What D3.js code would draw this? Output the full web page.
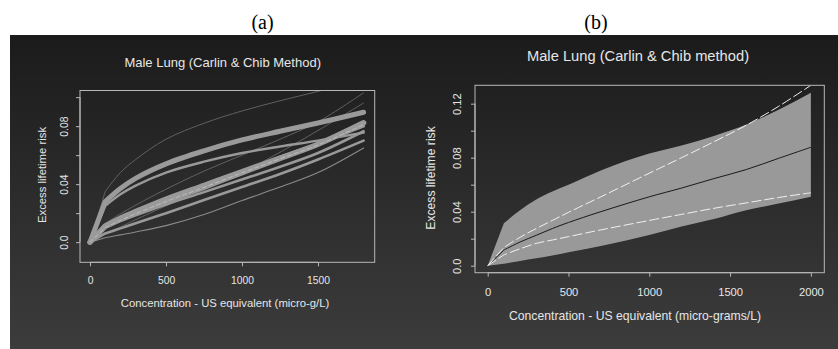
<!DOCTYPE html>
<html>
<head>
<meta charset="utf-8">
<script src="https://cdn.jsdelivr.net/npm/d3@7"></script>
<style>
html,body{margin:0;padding:0;background:#fff;}
svg{display:block;}
</style>
</head>
<body>
<svg id="chart" width="838" height="349"></svg>
<script>
// ---------- DATA ----------
// Panel (a): posterior sample curves
const aConc = [0, 100, 200, 300, 500, 750, 1000, 1250, 1500, 1800];
const aCurveTop    = [0, 0.035, 0.048, 0.057, 0.071, 0.082, 0.0905, 0.0975, 0.104, 0.112];
const aCurveUpper  = [0, 0.028, 0.037, 0.044, 0.054, 0.063, 0.0705, 0.0765, 0.0822, 0.0896];
const aCurveUpper2 = [0, 0.025, 0.033, 0.039, 0.048, 0.0555, 0.0615, 0.066, 0.070, 0.0755];
const aCurveMid    = [0, 0.011, 0.016, 0.0205, 0.0285, 0.038, 0.048, 0.0578, 0.0675, 0.0823];
const aCurveMidB   = [0, 0.012, 0.0175, 0.022, 0.0305, 0.040, 0.0495, 0.0588, 0.068, 0.080];
const aCurveMidD   = [0, 0.010, 0.015, 0.0195, 0.028, 0.0378, 0.0478, 0.0575, 0.067, 0.081];
const aCurveMid2   = [0, 0.010, 0.0145, 0.0185, 0.026, 0.0345, 0.0432, 0.052, 0.0615, 0.0765];
const aCurveLow    = [0, 0.006, 0.0095, 0.013, 0.020, 0.029, 0.038, 0.047, 0.057, 0.070];
const aCurveBottom = [0, 0.003, 0.005, 0.007, 0.0114, 0.019, 0.0287, 0.038, 0.048, 0.065];
const aCurveConvex = [0, 0.006, 0.0105, 0.0155, 0.025, 0.036, 0.048, 0.062, 0.077, 0.096];
const aCurveStraight = [0, 0.013, 0.0195, 0.0255, 0.0365, 0.049, 0.060, 0.071, 0.083, 0.103];
const aXTicks = [0, 500, 1000, 1500];
const aYTicks = [0, 0.02, 0.04, 0.06, 0.08, 0.10];
const aYLabels = ["0.0", "", "0.04", "", "0.08", ""];

// Panel (b): posterior band, median, and two white dashed curves
const bConc = [0, 100, 200, 300, 400, 500, 700, 1000, 1200, 1400, 1600, 1800, 2000];
const bBandUpper = [0, 0.0314, 0.041, 0.049, 0.055, 0.060, 0.0705, 0.083, 0.089, 0.096, 0.1045, 0.1155, 0.128];
const bBandLower = [0, 0.0015, 0.0035, 0.0055, 0.0075, 0.0099, 0.0146, 0.0227, 0.029, 0.0345, 0.041, 0.046, 0.051];
const bMedian    = [0, 0.0116, 0.0175, 0.0225, 0.0275, 0.032, 0.040, 0.051, 0.0575, 0.0645, 0.0712, 0.0795, 0.0877];
const bWhiteUp   = [0, 0.0135, 0.021, 0.0275, 0.0335, 0.0395, 0.051, 0.0685, 0.080, 0.0918, 0.104, 0.118, 0.1336];
const bWhiteLow  = [0, 0.008, 0.0125, 0.0165, 0.019, 0.0215, 0.0265, 0.0335, 0.038, 0.0425, 0.0465, 0.0505, 0.054];
const bXTicks = [0, 500, 1000, 1500, 2000];
const bYTicks = [0, 0.02, 0.04, 0.06, 0.08, 0.10, 0.12];
const bYLabels = ["0.0", "", "0.04", "", "0.08", "", "0.12"];

// ---------- DRAW ----------
const svg = d3.select("#chart");
const defs = svg.append("defs");
const grad = defs.append("linearGradient").attr("id","bg").attr("x1",0).attr("y1",0).attr("x2",0).attr("y2",1);
grad.append("stop").attr("offset","0%").attr("stop-color","#1b1b1b");
grad.append("stop").attr("offset","100%").attr("stop-color","#3c3c3c");
svg.append("rect").attr("x",10).attr("y",35).attr("width",828).attr("height",314).attr("fill","url(#bg)");

svg.append("text").attr("x",262.5).attr("y",29).attr("text-anchor","middle")
  .attr("font-family","Liberation Serif, Times New Roman, serif").attr("font-size",20).attr("fill","#000").text("(a)");
svg.append("text").attr("x",596).attr("y",29).attr("text-anchor","middle")
  .attr("font-family","Liberation Serif, Times New Roman, serif").attr("font-size",20).attr("fill","#000").text("(b)");

const FONT = "Liberation Sans, Arial, sans-serif";
const axisCol = "#b8b8b8";
const textCol = "#e6e6e6";

function panel(cfg){
  const g = svg.append("g");
  const x = d3.scaleLinear().domain(cfg.xDom).range([cfg.left, cfg.right]);
  const y = d3.scaleLinear().domain(cfg.yDom).range([cfg.bottom, cfg.top]);
  const cid = "clip" + cfg.id;
  defs.append("clipPath").attr("id",cid).append("rect")
    .attr("x",cfg.left).attr("y",cfg.top).attr("width",cfg.right-cfg.left).attr("height",cfg.bottom-cfg.top);
  const plot = g.append("g").attr("clip-path",`url(#${cid})`);
  g.append("rect").attr("x",cfg.left).attr("y",cfg.top).attr("width",cfg.right-cfg.left)
    .attr("height",cfg.bottom-cfg.top).attr("fill","none").attr("stroke",axisCol).attr("stroke-width",1);
  const xa = d3.axisBottom(x).tickValues(cfg.xTicks).tickSize(cfg.tick).tickPadding(cfg.xPad).tickFormat(d3.format("d"));
  const xg = g.append("g").attr("transform",`translate(0,${cfg.bottom})`).call(xa);
  xg.select(".domain").attr("d", `M${x(cfg.xTicks[0])},0H${x(cfg.xTicks[cfg.xTicks.length-1])}`).attr("stroke",axisCol);
  xg.selectAll(".tick line").attr("stroke",axisCol);
  xg.selectAll(".tick text").attr("fill",textCol).attr("font-family",FONT).attr("font-size",cfg.tickFont);
  const ya = d3.axisLeft(y).tickValues(cfg.yTicks).tickSize(cfg.tick).tickFormat((d,i)=>cfg.yLabels[i]);
  const yg = g.append("g").attr("transform",`translate(${cfg.left},0)`).call(ya);
  yg.select(".domain").attr("d", `M0,${y(cfg.yTicks[0])}V${y(cfg.yTicks[cfg.yTicks.length-1])}`).attr("stroke",axisCol);
  yg.selectAll(".tick line").attr("stroke",axisCol);
  yg.selectAll(".tick text").attr("fill",textCol).attr("font-family",FONT).attr("font-size",cfg.tickFont)
    .attr("text-anchor","middle").attr("dy",null).attr("x",null)
    .attr("transform",`translate(${cfg.yLabX - cfg.left},0) rotate(-90)`).attr("y",0);
  g.append("text").attr("x",cfg.titleX).attr("y",cfg.titleY).attr("text-anchor","middle")
    .attr("font-family",FONT).attr("font-size",cfg.titleFont).attr("fill",textCol).text(cfg.title);
  g.append("text").attr("x",cfg.xlabX).attr("y",cfg.xlabY).attr("text-anchor","middle")
    .attr("font-family",FONT).attr("font-size",cfg.labFont).attr("fill",textCol).text(cfg.xlab);
  g.append("text").attr("transform",`translate(${cfg.ylabX},${cfg.ylabY}) rotate(-90)`).attr("text-anchor","middle")
    .attr("font-family",FONT).attr("font-size",cfg.labFont).attr("fill",textCol).text(cfg.ylab);
  return {x,y,plot};
}

const smoothCurve = d3.curveCatmullRom.alpha(0.5);
// path: straight first segment (kink at 100), smooth afterwards
function kinkedPath(xs, ys, sx, sy){
  const pts = xs.map((d,i)=>[sx(d), sy(ys[i])]);
  const smooth = d3.line().curve(smoothCurve)(pts.slice(1));
  return `M${pts[0][0]},${pts[0][1]}L` + smooth.slice(1);
}

// Panel (a)
const A = panel({id:"a", xDom:[-66,1873], yDom:[-0.0139,0.1046], left:80, right:374.7, top:90.5, bottom:262.3,
  xTicks:aXTicks, yTicks:aYTicks, yLabels:aYLabels, tick:4, xPad:10, tickFont:10.3, yLabX:68,
  title:"Male Lung (Carlin & Chib Method)", titleX:222.7, titleY:67, titleFont:13,
  xlab:"Concentration - US equivalent (micro-g/L)", xlabX:225, xlabY:307, labFont:11.3,
  ylab:"Excess lifetime risk", ylabX:46, ylabY:175});

const aSeries = [
  {v:aCurveTop, w:0.8, c:"#707070"},
  {v:aCurveStraight, w:0.8, c:"#707070"},
  {v:aCurveConvex, w:0.8, c:"#707070"},
  {v:aCurveBottom, w:1.1, c:"#8a8a8a"},
  {v:aCurveLow, w:2.6, c:"#999"},
  {v:aCurveMid2, w:2.6, c:"#999"},
  {v:aCurveUpper2, w:2.4, c:"#999"},
  {v:aCurveMidB, w:3, c:"#999"},
  {v:aCurveUpper, w:5, c:"#9a9a9a"},
  {v:aCurveMid, w:5.5, c:"#9a9a9a"},
  {v:aCurveMidD, w:1, c:"#bdbdbd", dash:"4,3"},
];
aSeries.forEach(s=>{
  A.plot.append("path").attr("d",kinkedPath(aConc, s.v, A.x, A.y)).attr("fill","none").attr("stroke",s.c)
    .attr("stroke-width",s.w).attr("stroke-linecap","round").attr("stroke-linejoin","round")
    .attr("stroke-dasharray",s.dash||null);
});

// Panel (b)
const B = panel({id:"b", xDom:[-78.6,2083], yDom:[-0.0052,0.1336], left:475, right:824.3, top:85.3, bottom:272.7,
  xTicks:bXTicks, yTicks:bYTicks, yLabels:bYLabels, tick:4, xPad:11, tickFont:11.2, yLabX:461,
  title:"Male Lung (Carlin & Chib method)", titleX:638, titleY:61, titleFont:14.7,
  xlab:"Concentration - US equivalent (micro-grams/L)", xlabX:635, xlabY:320, labFont:12.2,
  ylab:"Excess lifetime risk", ylabX:434.5, ylabY:178});

const bandArea = d3.area().curve(d3.curveMonotoneX)
  .x(d=>B.x(d[0])).y0(d=>B.y(d[2])).y1(d=>B.y(d[1]));
const bandPts = bConc.map((c,i)=>[c, bBandUpper[i], bBandLower[i]]).slice(1);
const bandD = `M${B.x(bConc[0])},${B.y(bBandUpper[0])}L` + bandArea(bandPts).slice(1);
B.plot.append("path").attr("d",bandD).attr("fill","#999999");
B.plot.append("path").attr("d",kinkedPath(bConc, bMedian, B.x, B.y)).attr("fill","none").attr("stroke","#1a1a1a").attr("stroke-width",1);
B.plot.append("path").attr("d",kinkedPath(bConc, bWhiteUp, B.x, B.y)).attr("fill","none").attr("stroke","#f0f0f0").attr("stroke-width",1).attr("stroke-dasharray","10,3");
B.plot.append("path").attr("d",kinkedPath(bConc, bWhiteLow, B.x, B.y)).attr("fill","none").attr("stroke","#f0f0f0").attr("stroke-width",1).attr("stroke-dasharray","10,3");
</script>
</body>
</html>
